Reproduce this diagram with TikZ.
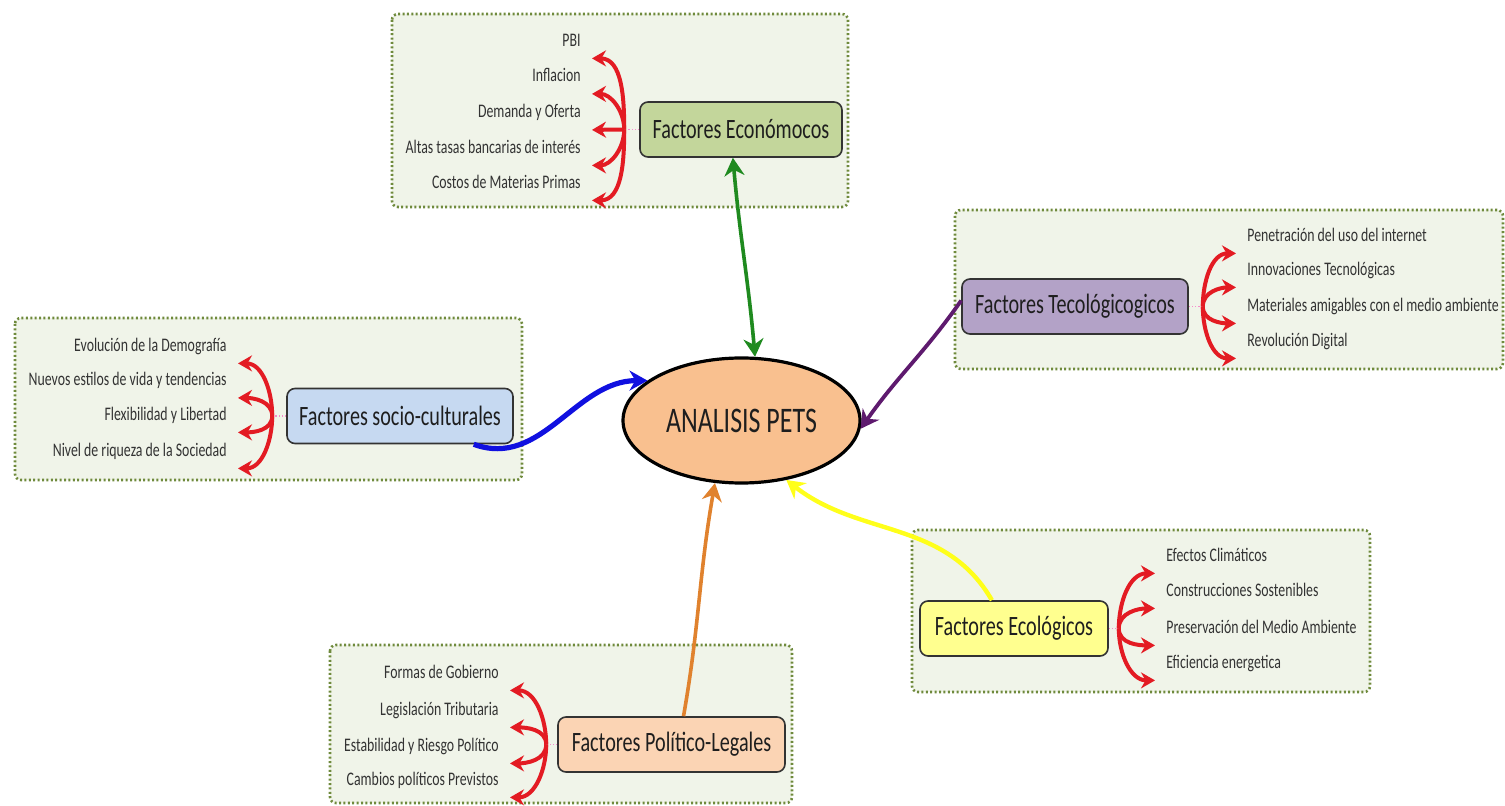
\documentclass[tikz,border=0pt]{standalone}
\usepackage{fontspec}
\setmainfont[FakeStretch=0.72]{Carlito}
\usetikzlibrary{arrows.meta,shapes.geometric}
\definecolor{framefill}{HTML}{F0F4E9}
\definecolor{framedots}{HTML}{6F8A3C}
\definecolor{econfill}{HTML}{C3D69B}
\definecolor{techfill}{HTML}{B3A2C7}
\definecolor{sociofill}{HTML}{C6D9F1}
\definecolor{polfill}{HTML}{FBD4B4}
\definecolor{ecofill}{HTML}{FFFF8F}
\definecolor{petsfill}{HTML}{F9C08F}
\definecolor{branchred}{HTML}{E31B23}
\definecolor{linkgreen}{HTML}{1F8A1F}
\definecolor{linkpurple}{HTML}{5E1A6E}
\definecolor{linkblue}{HTML}{1010E0}
\definecolor{linkorange}{HTML}{E0822E}
\definecolor{linkyellow}{HTML}{FFFF1A}
\definecolor{txt}{HTML}{1E1E1E}
\tikzset{x=0.5pt, y=0.5pt,
  frame/.style={draw=framedots, fill=framefill, line width=1.3pt,
    dash pattern=on 1pt off 1.2pt, rounded corners=3pt},
  topic/.style={draw=black!80, line width=0.8pt, rounded corners=4pt,
    font=\fontsize{14}{16}\selectfont, text=txt, minimum height=27.5pt},
  pets/.style={ellipse, draw=black, line width=1.6pt, fill=petsfill,
    minimum width=118.5pt, minimum height=62.5pt,
    font=\fontsize{18}{20}\selectfont, text=txt},
  leaf/.style={font=\fontsize{9.6}{11}\selectfont, text=black!80,
    inner xsep=5.5pt, inner ysep=0pt, text height=6pt, text depth=1.5pt,
    minimum height=16pt},
  leafL/.style={leaf, anchor=east},
  leafR/.style={leaf, anchor=west},
  branch/.style={draw=branchred, line width=2pt,
    -{Stealth[length=7pt,width=8pt]}},
  stub/.style={draw=magenta!45, densely dotted, line width=0.6pt},
  link/.style={line width=#1, -{Stealth[length=9pt,width=10pt]}}
}
\begin{document}
\begin{tikzpicture}
\useasboundingbox (0,0) rectangle (1505,-806);
% frames
\draw[frame] (392,-14) rectangle (848,-207);
\draw[frame] (955,-210) rectangle (1503,-369);
\draw[frame] (15,-318) rectangle (522,-480);
\draw[frame] (330,-645) rectangle (792,-803);
\draw[frame] (912,-530) rectangle (1370,-692);
% center
\node[pets] (pets) at (741.5,-420.5) {ANALISIS PETS};
% topics
\node[topic, fill=econfill, minimum width=101pt] (econ) at (741,-129.5) {Factores Económocos};
\node[topic, fill=techfill, minimum width=113pt] (tech) at (1075,-306.5) {Factores Tecológicogicos};
\node[topic, fill=sociofill, minimum width=113pt] (socio) at (400,-416) {Factores socio-culturales};
\node[topic, fill=polfill, minimum width=113.5pt] (pol) at (671.5,-744.5) {Factores Político-Legales};
\node[topic, fill=ecofill, minimum width=94pt] (eco) at (1014,-628.5) {Factores Ecológicos};
\coordinate (econJ) at ([xshift=-7.5pt]econ.west);
\coordinate (techJ) at ([xshift=7pt]tech.east);
\coordinate (socioJ) at ([xshift=-7pt]socio.west);
\coordinate (polJ) at ([xshift=-5.5pt]pol.west);
\coordinate (ecoJ) at ([xshift=5pt]eco.east);
% economicos
\node[leafL] (e1) at (592,-42) {PBI};
\node[leafL] (e2) at (592,-77.5) {Inflacion};
\node[leafL] (e3) at (592,-113.5) {Demanda y Oferta};
\node[leafL] (e4) at (592,-149) {Altas tasas bancarias de interés};
\node[leafL] (e5) at (592,-184) {Costos de Materias Primas};
% tecnologicos
\node[leafR] (t1) at (1236,-237) {Penetración del uso del internet};
\node[leafR] (t2) at (1236,-271) {Innovaciones Tecnológicas};
\node[leafR] (t3) at (1236,-307) {Materiales amigables con el medio ambiente};
\node[leafR] (t4) at (1236,-342) {Revolución Digital};
% socio-culturales
\node[leafL] (s1) at (238,-347) {Evolución de la Demografía};
\node[leafL] (s2) at (238,-381.5) {Nuevos estilos de vida y tendencias};
\node[leafL] (s3) at (238,-416) {Flexibilidad y Libertad};
\node[leafL] (s4) at (238,-452) {Nivel de riqueza de la Sociedad};
% politico-legales
\node[leafL] (p1) at (510,-674) {Formas de Gobierno};
\node[leafL] (p2) at (510,-711) {Legislación Tributaria};
\node[leafL] (p3) at (510,-747) {Estabilidad y Riesgo Político};
\node[leafL] (p4) at (510,-781) {Cambios políticos Previstos};
% ecologicos
\node[leafR] (g1) at (1155,-557) {Efectos Climáticos};
\node[leafR] (g2) at (1155,-592) {Construcciones Sostenibles};
\node[leafR] (g3) at (1155,-629) {Preservación del Medio Ambiente};
\node[leafR] (g4) at (1155,-664) {Eficiencia energetica};
% stubs
\draw[stub] (econ.west) -- (econJ);
\draw[stub] (tech.east) -- (techJ);
\draw[stub] (socio.west) -- (socioJ);
\draw[stub] (pol.west) -- (polJ);
\draw[stub] (eco.east) -- (ecoJ);
% red branches
\foreach \leaf/\dir in {e1/90, e2/90, e4/-90, e5/-90}
  \draw[branch] (econJ) to[out=\dir, in=0] (\leaf.south east);
\draw[branch] (econJ) -- (e3.south east);
\foreach \leaf/\dir in {s1/90, s2/90, s3/-90, s4/-90}
  \draw[branch] (socioJ) to[out=\dir, in=0] (\leaf.south east);
\foreach \leaf/\dir in {p1/90, p2/90, p3/-90, p4/-90}
  \draw[branch] (polJ) to[out=\dir, in=0] (\leaf.south east);
\foreach \leaf/\dir in {t1/90, t2/90, t3/-90, t4/-90}
  \draw[branch] (techJ) to[out=\dir, in=180] (\leaf.south west);
\foreach \leaf/\dir in {g1/90, g2/90, g3/-90, g4/-90}
  \draw[branch] (ecoJ) to[out=\dir, in=180] (\leaf.south west);
% links to center
\draw[link=1.8pt, linkgreen, {Stealth[length=9pt,width=10pt]}-{Stealth[length=9pt,width=10pt]}]
  (econ.-106) to[out=-85, in=95] (pets.78);
\draw[link=2.6pt, linkblue] (socio.-21) to[out=-20, in=180] (pets.157);
\draw[link=1.9pt, linkpurple] (tech.177) to[out=235, in=55] (pets.-4);
\draw[link=1.8pt, linkorange] (pol.67) to[out=80, in=-100] (pets.-113);
\draw[link=2.2pt, linkyellow] (eco.128) to[out=120, in=-38] (pets.-53);
\end{tikzpicture}
\end{document}
